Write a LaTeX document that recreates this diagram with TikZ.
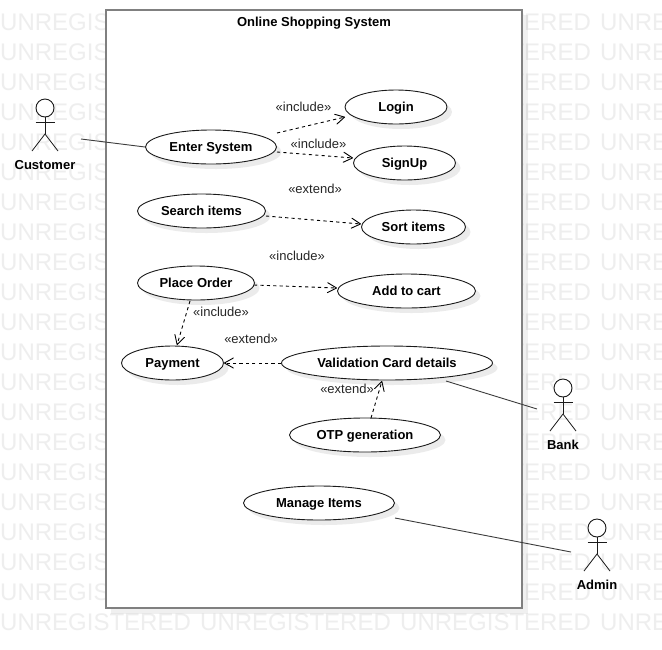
\documentclass[tikz,border=0pt]{standalone}
\usepackage{fontspec}
\setmainfont{Liberation Sans}
\usetikzlibrary{arrows.meta,shapes.geometric}
\definecolor{wmark}{HTML}{EEEEEE}
\definecolor{frame}{HTML}{808080}
\definecolor{ink}{HTML}{1A1A1A}
\tikzset{
  x=1pt,y=-1pt,
  wm/.style={anchor=base west,inner sep=0pt,text=wmark,font=\fontsize{24}{26}\selectfont},
  usecase/.style={ellipse,draw=ink,line width=.9pt,fill=white,inner sep=0pt,minimum height=34pt,text height=9.4pt,text depth=.4pt,font=\fontsize{13}{15}\selectfont\bfseries,text=black},
  caseshadow/.style={ellipse,fill=black,opacity=.08,inner sep=0pt,minimum height=34pt},
  stereo/.style={inner sep=0pt,text height=9.4pt,text depth=.4pt,font=\fontsize{13}{15}\selectfont,text=black!85},
  actorname/.style={inner sep=0pt,text height=9.4pt,text depth=.4pt,font=\fontsize{13}{15}\selectfont\bfseries,text=black},
  head/.style={circle,draw=ink,line width=.9pt,fill=white,inner sep=0pt,minimum size=18pt},
  limb/.style={draw=ink,line width=.8pt},
  assoc/.style={draw=ink!85,line width=.9pt},
  dep/.style={draw=black,line width=.9pt,dash pattern=on 3.2pt off 3.2pt,-{Straight Barb[length=9pt,width=10pt,line width=.9pt,round]}},
}
\newcommand{\stickman}[4]{% name, x, head y, label
  \node[head] (#1head) at (#2,#3) {};
  \coordinate (#1hip) at (#2,#3+26);
  \draw[limb] (#1head.south) -- (#1hip);
  \draw[limb] (#2-9.5,#3+14.5) -- (#2+9.5,#3+14.5);
  \draw[limb] (#2-13,#3+43) -- (#1hip) -- (#2+13,#3+43);
  \node[actorname] (#1label) at (#2,#3+57) {#4};
}
\begin{document}
\begin{tikzpicture}
\useasboundingbox (0,0) rectangle (662,649);
\fill[white] (0,0) rectangle (662,649);
\begin{scope}
\clip (0,0) rectangle (662,649);
\foreach \r in {0,...,20}{
  \foreach \c in {0,1,2,3}{
    \node[wm] (wm-\r-\c) at (\c*200,30+\r*30) {UNREGISTERED};
  }
}
\end{scope}
% system frame
\fill[black,opacity=.06] (111,15) rectangle (528,614);
\draw[frame,line width=2pt,fill=white] (106,10) rectangle (522,608);
\node[actorname] (title) at (314,22) {Online Shopping System};
% shadows
\foreach \n/\x/\y/\w in {sa/396/107/102,sb/404.5/163/102,sc/211/147/131,sd/201.5/211/128,se/413.5/227/104,sf/196/283/117,sg/406.5/291/138,sh/172.5/363/102,si/387/363/211,sj/365/435/151,sk/319/503/151}{
  \node[caseshadow,minimum width=\w pt] (\n) at (\x+5,\y+5) {};
}
% use cases
\node[usecase,minimum width=102pt] (login) at (396,107) {Login};
\node[usecase,minimum width=102pt] (signup) at (404.5,163) {SignUp};
\node[usecase,minimum width=131pt] (enter) at (211,147) {Enter System};
\node[usecase,minimum width=128pt] (search) at (201.5,211) {Search items};
\node[usecase,minimum width=104pt] (sort) at (413.5,227) {Sort items};
\node[usecase,minimum width=117pt] (place) at (196,283) {Place Order};
\node[usecase,minimum width=138pt] (cart) at (406.5,291) {Add to cart};
\node[usecase,minimum width=102pt] (payment) at (172.5,363) {Payment};
\node[usecase,minimum width=211pt] (valid) at (387,363) {Validation Card details};
\node[usecase,minimum width=151pt] (otp) at (365,435) {OTP generation};
\node[usecase,minimum width=151pt] (manage) at (319,503) {Manage Items};
% actors
\stickman{customer}{45}{108}{Customer}
\stickman{bank}{563}{388}{Bank}
\stickman{admin}{597}{528}{Admin}
% ports
\coordinate (customerport) at (81,139);
\coordinate (bankport) at (537,409);
\coordinate (adminport) at (571,552);
\coordinate (enterNE) at (277,133);
\coordinate (enterE) at (277,152);
\coordinate (validS) at (446,381);
\coordinate (manageE) at (395,518);
\coordinate (searchE) at (266,216);
\coordinate (placeE) at (254,285);
\coordinate (placeS) at (190,301);
\coordinate (otpN) at (371,418);
\coordinate (validB) at (382,381);
\coordinate (signW) at (353,158);
\coordinate (loginW) at (345,117);
\coordinate (sortW) at (361,224);
\coordinate (cartW) at (337,288);
\coordinate (payN) at (177,345);
% connectors
\draw[assoc] (customerport) -- (enter.west);
\draw[assoc] (validS) -- (bankport);
\draw[assoc] (manageE) -- (adminport);
\draw[dep] (enterNE) -- (loginW);
\draw[dep] (enterE) -- (signW);
\draw[dep] (searchE) -- (sortW);
\draw[dep] (placeE) -- (cartW);
\draw[dep] (placeS) -- (payN);
\draw[dep] (valid.west) -- (payment.east);
\draw[dep] (otpN) -- (validB);
% labels
\node[stereo] (l1) at (303.5,107) {«include»};
\node[stereo] (l2) at (318.5,144) {«include»};
\node[stereo] (l3) at (315,188.5) {«extend»};
\node[stereo] (l4) at (297,256) {«include»};
\node[stereo] (l5) at (221,312) {«include»};
\node[stereo] (l6) at (251,339) {«extend»};
\node[stereo] (l7) at (347,389) {«extend»};
\end{tikzpicture}
\end{document}
